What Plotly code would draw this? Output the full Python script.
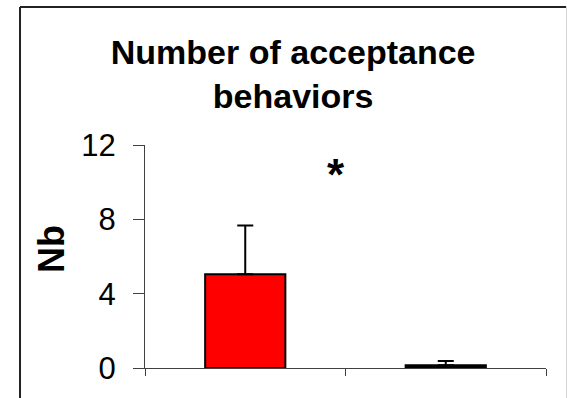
import plotly.graph_objects as go

categories = ["Group 1", "Group 2"]
means = [5.05, 0.15]
errors_up = [2.62, 0.22]
bar_colors = ["#FF0000", "#000000"]
y_ticks = [0, 4, 8, 12]
title_text = "Number of acceptance<br>behaviors"
y_title = "Nb"
sig_mark = "*"

FONT = "Arial, Liberation Sans, sans-serif"
xpos = list(range(len(categories)))

fig = go.Figure()
fig.add_trace(go.Bar(
    x=xpos, y=means, width=0.4,
    hovertext=categories,
    marker=dict(color=bar_colors, line=dict(color="black", width=2)),
    error_y=dict(type="data", array=errors_up, arrayminus=[0] * len(means),
                 symmetric=False, color="black", thickness=2, width=8),
))

fig.update_layout(
    width=567, height=398,
    margin=dict(l=145, r=21, t=145, b=27),
    paper_bgcolor="white", plot_bgcolor="white",
    showlegend=False,
    font=dict(family=FONT, color="black"),
    title=dict(text="<b>" + title_text + "</b>", x=0.517, xanchor="center",
               y=0.84, yanchor="bottom", yref="container",
               font=dict(size=34, family=FONT, color="black")),
    xaxis=dict(range=[-0.5, 1.5], tickmode="array", tickvals=[-0.5, 0.5, 1.5],
               showticklabels=False, ticks="outside", ticklen=7, tickwidth=1,
               tickcolor="#404040", showline=True, linecolor="#404040", linewidth=1,
               showgrid=False, zeroline=False, fixedrange=True),
    yaxis=dict(range=[0, 12], tickmode="array", tickvals=y_ticks,
               ticks="outside", ticklen=11, tickwidth=1, tickcolor="#404040",
               showline=True, linecolor="#404040", linewidth=1,
               showgrid=False, zeroline=False, ticklabelstandoff=11,
               tickfont=dict(size=31, family=FONT, color="black")),
)

fig.add_annotation(text="<b>" + y_title + "</b>", xref="paper", yref="paper",
                   x=-0.29, y=0.535, textangle=-90, showarrow=False,
                   font=dict(size=36, family=FONT, color="black"))
fig.add_annotation(text="<b>" + sig_mark + "</b>", xref="x", yref="y",
                   x=0.455, y=10.4, showarrow=False,
                   font=dict(size=44, family=FONT, color="black"))

# frame around the chart
fig.add_shape(type="line", xref="paper", yref="paper", x0=-0.3117, x1=-0.3117,
              y0=-0.3, y1=1.619, line=dict(color="#222222", width=2))
fig.add_shape(type="line", xref="paper", yref="paper", x0=-0.3117, x1=1.05,
              y0=1.619, y1=1.619, line=dict(color="#222222", width=2))
fig.add_shape(type="line", xref="paper", yref="paper", x0=1.0515, x1=1.0515,
              y0=-0.3, y1=1.619, line=dict(color="#d0d0d0", width=1))

fig.write_html("out.html")
